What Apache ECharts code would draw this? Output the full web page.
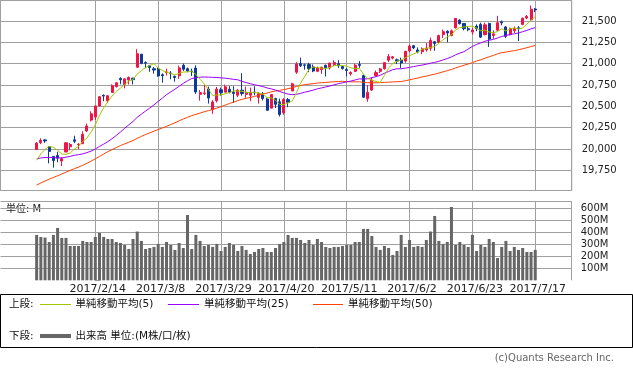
<!DOCTYPE html>
<html><head><meta charset="utf-8">
<script src="https://cdn.jsdelivr.net/npm/echarts@6/dist/echarts.min.js"></script>
<style>html,body{margin:0;padding:0;background:#fff}#c{width:633px;height:372px}</style>
</head><body><div id="c"></div>
<script>
// ---- data ----
const dates = ['2017/1/25','2017/1/26','2017/1/27','2017/1/30','2017/1/31',
'2017/2/1','2017/2/2','2017/2/3','2017/2/6','2017/2/7','2017/2/8','2017/2/9','2017/2/10','2017/2/13','2017/2/14','2017/2/15','2017/2/16','2017/2/17','2017/2/21','2017/2/22','2017/2/23','2017/2/24','2017/2/27','2017/2/28',
'2017/3/1','2017/3/2','2017/3/3','2017/3/6','2017/3/7','2017/3/8','2017/3/9','2017/3/10','2017/3/13','2017/3/14','2017/3/15','2017/3/16','2017/3/17','2017/3/20','2017/3/21','2017/3/22','2017/3/23','2017/3/24','2017/3/27','2017/3/28','2017/3/29','2017/3/30','2017/3/31',
'2017/4/3','2017/4/4','2017/4/5','2017/4/6','2017/4/7','2017/4/10','2017/4/11','2017/4/12','2017/4/13','2017/4/17','2017/4/18','2017/4/19','2017/4/20','2017/4/21','2017/4/24','2017/4/25','2017/4/26','2017/4/27','2017/4/28',
'2017/5/1','2017/5/2','2017/5/3','2017/5/4','2017/5/5','2017/5/8','2017/5/9','2017/5/10','2017/5/11','2017/5/12','2017/5/15','2017/5/16','2017/5/17','2017/5/18','2017/5/19','2017/5/22','2017/5/23','2017/5/24','2017/5/25','2017/5/26','2017/5/30','2017/5/31',
'2017/6/1','2017/6/2','2017/6/5','2017/6/6','2017/6/7','2017/6/8','2017/6/9','2017/6/12','2017/6/13','2017/6/14','2017/6/15','2017/6/16','2017/6/19','2017/6/20','2017/6/21','2017/6/22','2017/6/23','2017/6/26','2017/6/27','2017/6/28','2017/6/29','2017/6/30',
'2017/7/3','2017/7/5','2017/7/6','2017/7/7','2017/7/10','2017/7/11','2017/7/12','2017/7/13','2017/7/14','2017/7/17'];

const tickLabels = ['2017/2/14','2017/3/8','2017/3/29','2017/4/20','2017/5/11','2017/6/2','2017/6/23','2017/7/17'];
const firstTickIndex = 14;
const tickStep = 15;

const opens = [19994,20076,20106,20028,19913,19923,19859,19964,20025,20107,
20049,20061,20211,20338,20374,20504,20627,20564,20663,20730,
20826,20754,20808,20830,20957,21111,21012,20976,20940,20935,
20870,20894,20890,20852,20857,20981,20940,20913,20948,20640,
20650,20700,20462,20566,20694,20665,20700,20665,20630,20689,
20640,20630,20666,20605,20645,20586,20478,20590,20553,20425,
20578,20680,20900,21000,20986,20990,20962,20910,20930,20980,
20950,20990,21000,20965,20930,20880,20910,20990,20860,20590,
20690,20860,20910,20940,21040,21065,21045,21040,21030,21150,
21210,21160,21140,21160,21180,21257,21250,21340,21380,21330,
21420,21510,21470,21410,21370,21440,21460,21340,21470,21330,
21392,21490,21430,21340,21385,21420,21460,21535,21513,21640];

const highs = [20082,20125,20117,20028,19913,19967,19905,20081,20070,20155,
20068,20206,20298,20441,20504,20620,20640,20624,20757,20779,
20840,20822,20851,20834,21169,21112,21025,20985,20961,20958,
20886,20941,20912,20860,20977,21001,20955,20942,20980,20690,
20750,20731,20572,20727,20719,20754,20736,20735,20702,20888,
20731,20720,20735,20665,20668,20600,20637,20600,20590,20595,
20597,20776,21017,21070,21000,21010,20990,20965,20965,20990,
21010,21040,21040,20975,20950,20910,21000,21030,20870,20750,
20840,20920,20950,21015,21113,21090,21060,21070,21150,21226,
21220,21190,21190,21240,21305,21265,21340,21400,21390,21400,
21535,21520,21475,21440,21420,21460,21480,21480,21480,21390,
21560,21505,21440,21420,21435,21440,21540,21570,21681,21651];

const lows = [19994,20056,20071,19831,19781,19843,19800,19964,19984,20068,
19998,20060,20199,20322,20339,20496,20560,20538,20663,20720,
20758,20710,20756,20756,20957,20993,20946,20905,20883,20847,
20777,20862,20817,20789,20823,20915,20900,20855,20645,20566,
20632,20532,20412,20544,20624,20665,20652,20540,20607,20624,
20600,20560,20629,20532,20568,20450,20478,20480,20380,20400,
20490,20680,20880,20960,20930,20900,20900,20900,20880,20850,
20930,20970,20950,20930,20850,20860,20900,20950,20600,20553,
20680,20850,20890,20930,21020,21050,20995,20950,21010,21130,
21170,21120,21110,21140,21150,21150,21240,21300,21250,21320,
21410,21460,21390,21380,21340,21380,21300,21330,21197,21290,
21380,21450,21300,21330,21360,21265,21450,21520,21506,21603];

const closes = [20068.5,20100.9,20093.8,19971.1,19864.1,19890.9,19884.9,20071.5,20052.4,20090.3,
20054.3,20172.4,20269.4,20412.2,20504.4,20611.9,20619.8,20624.1,20743.0,20775.6,
20810.3,20821.8,20837.4,20812.2,21115.6,21003.0,21005.7,20954.3,20924.8,20855.7,
20858.2,20903.0,20881.5,20837.4,20950.1,20934.6,20914.6,20905.9,20668.0,20661.3,
20656.6,20596.7,20551.0,20701.5,20659.3,20728.5,20663.2,20650.2,20689.2,20648.2,
20663.0,20656.1,20658.0,20651.3,20591.9,20453.3,20636.9,20523.3,20404.5,20578.7,
20547.8,20763.9,20996.1,20975.1,20981.3,20940.5,20913.5,20949.9,20957.9,20951.5,
21006.9,21012.4,20975.8,20943.1,20919.4,20896.6,20981.9,20979.8,20606.9,20663.0,
20804.8,20894.8,20937.9,21012.3,21083.0,21080.3,21029.5,21008.7,21144.2,21206.3,
21184.0,21136.2,21173.7,21182.5,21272.0,21235.7,21328.5,21374.6,21359.9,21384.3,
21529.0,21467.1,21410.0,21397.3,21394.8,21409.6,21310.7,21454.6,21287.0,21349.6,
21479.3,21478.2,21320.0,21414.3,21408.5,21409.1,21532.1,21553.1,21637.7,21629.7];

// volume, millions
const volumes = [378,361,356,319,378,436,353,353,286,286,
286,328,319,319,361,394,361,344,344,319,
311,294,261,344,406,328,261,269,278,303,
278,319,294,253,311,269,544,261,378,328,
286,294,278,303,244,278,311,294,244,286,
253,219,236,261,269,236,236,269,303,319,
378,353,353,336,311,336,294,344,319,278,
269,278,278,286,294,294,319,319,428,428,
369,278,253,286,269,211,244,378,278,336,
278,286,278,336,406,536,328,303,319,611,
294,319,294,278,378,244,294,278,344,319,
186,278,328,244,278,253,269,236,236,253];

const ma5 = [19867.9,19941.7,19995.0,20029.3,20019.7,19984.2,19941.0,19936.5,19952.8,19998.0,
20030.7,20088.2,20127.8,20199.7,20282.5,20394.0,20483.5,20554.5,20620.6,20674.9,
20714.5,20754.9,20797.6,20811.5,20879.5,20918.0,20954.8,20978.2,21000.7,20948.7,
20919.7,20899.2,20884.6,20867.2,20886.0,20901.3,20903.6,20908.5,20874.6,20816.9,
20761.3,20697.7,20626.7,20633.4,20633.0,20647.4,20660.7,20680.5,20678.1,20675.9,
20662.8,20661.3,20662.9,20655.3,20644.0,20602.1,20598.3,20571.3,20522.0,20519.3,
20538.2,20563.6,20658.2,20772.3,20852.8,20931.4,20961.3,20952.1,20948.6,20942.6,
20955.9,20975.7,20980.9,20977.9,20971.5,20949.5,20943.4,20944.2,20876.9,20825.7,
20807.3,20789.9,20781.5,20862.6,20946.6,21001.7,21028.6,21042.7,21069.1,21093.8,
21114.5,21135.9,21168.9,21176.6,21189.7,21200.0,21238.5,21278.6,21314.1,21336.6,
21395.2,21423.0,21430.1,21437.5,21439.6,21415.8,21384.5,21393.4,21371.3,21362.3,
21376.2,21409.7,21382.8,21408.3,21420.1,21406.0,21416.8,21463.4,21508.1,21552.4];

const ma25 = [19885.8,19894.5,19899.2,19900.4,19898.2,19896.5,19894.1,19903.6,19912.9,19926.0,
19932.9,19942.1,19957.0,19974.9,19999.6,20029.8,20056.5,20085.8,20120.1,20158.0,
20198.3,20241.9,20282.3,20322.8,20370.9,20408.3,20444.5,20478.9,20517.0,20556.7,
20595.4,20636.1,20668.5,20699.9,20734.3,20769.5,20799.2,20824.7,20834.9,20841.2,
20843.0,20842.0,20839.1,20837.5,20832.8,20829.5,20823.2,20815.7,20810.8,20792.1,
20778.5,20764.5,20752.7,20741.7,20731.2,20715.0,20704.3,20690.0,20672.7,20657.8,
20642.4,20636.3,20639.9,20652.2,20665.0,20676.4,20689.0,20705.0,20715.3,20726.9,
20738.1,20752.1,20765.1,20775.2,20786.1,20795.4,20808.5,20821.3,20819.6,20822.4,
20836.5,20846.8,20863.4,20887.7,20907.8,20929.1,20939.8,20940.3,20947.0,20956.0,
20965.8,20974.7,20983.6,20992.6,21005.4,21014.6,21027.2,21043.2,21059.9,21078.5,
21103.7,21123.2,21140.4,21172.0,21201.2,21225.4,21242.1,21262.7,21273.7,21284.4,
21300.4,21318.3,21330.8,21341.6,21349.7,21358.7,21374.5,21389.7,21407.9,21422.2];

const ma50 = [19575.7,19600.7,19625.2,19646.2,19666.1,19685.9,19706.2,19728.5,19749.1,19769.2,
19787.3,19808.8,19831.7,19857.5,19883.8,19912.6,19940.7,19968.1,19992.0,20015.2,
20039.1,20059.6,20078.2,20098.6,20123.8,20147.0,20169.5,20189.1,20208.7,20227.5,
20246.0,20265.1,20286.1,20306.4,20330.2,20351.2,20370.7,20390.8,20404.9,20420.4,
20436.4,20449.3,20462.4,20478.8,20495.4,20513.9,20532.5,20549.0,20566.8,20581.5,
20593.4,20604.5,20615.8,20629.4,20643.9,20655.2,20670.2,20679.3,20686.3,20696.1,
20705.9,20717.8,20732.3,20743.6,20753.1,20759.7,20765.5,20772.1,20776.4,20779.9,
20783.8,20787.6,20790.4,20793.0,20789.1,20787.0,20786.5,20787.0,20780.6,20776.8,
20775.7,20775.6,20776.7,20780.2,20782.8,20785.8,20788.0,20790.1,20799.6,20810.5,
20821.1,20831.9,20844.3,20853.9,20866.2,20876.3,20889.6,20904.1,20917.5,20932.3,
20949.6,20965.8,20980.8,20995.8,21011.8,21031.0,21044.4,21063.1,21080.7,21096.1,
21114.8,21129.0,21135.5,21144.3,21152.8,21162.2,21174.6,21186.7,21200.2,21213.8];

// ---- chart ----
const FONT = "'DejaVu Sans','Noto Sans CJK JP',sans-serif";
const CJK = "'DejaVu Sans','Noto Sans CJK JP',sans-serif";
const GRID_C = '#a0a0a0';
const NONE = 'rgba(0,0,0,0)';
const UP = '#f01446', DOWN = '#0d3a9a';
const C5 = '#a0c800', C25 = '#9900ff', C50 = '#ff4000';

const xPos = dates.map((d, i) => i - firstTickIndex);
const candleData = dates.map((d, i) => [xPos[i], opens[i], closes[i], lows[i], highs[i]]);
const volData = dates.map((d, i) => [xPos[i], volumes[i]]);
const lineData = arr => arr.map((v, i) => [xPos[i], v]);

const X_MIN = -22.63, X_MAX = 113.7;
// split lines of the x axes: axis edges + multiples of tickStep; only the dated ones are visible
const xSplitVals = [X_MIN];
for (let v = Math.ceil(X_MIN / tickStep) * tickStep; v <= X_MAX; v += tickStep) xSplitVals.push(v);
xSplitVals.push(X_MAX);
const upperSplitColors = xSplitVals.map((v, k) => (k === 0 || k === xSplitVals.length - 1 || v >= 0) ? GRID_C : NONE);
const lowerSplitColors = xSplitVals.map((v, k) => (k === 0) ? NONE : ((k === xSplitVals.length - 1 || v >= 0) ? GRID_C : NONE));

function xLabel(v) {
  const k = Math.round(v / tickStep);
  if (Math.abs(v - k * tickStep) > 1e-6 || k < 0 || k >= tickLabels.length) return '';
  return tickLabels[k];
}
function priceLabel(v) {
  if (Math.abs(v / 250 - Math.round(v / 250)) > 1e-6) return '';
  return String(Math.round(v)).replace(/\B(?=(\d{3})+(?!\d))/g, ',');
}
function volLabel(v) {
  if (v <= 0 || Math.abs(v / 100 - Math.round(v / 100)) > 1e-6) return '';
  return Math.round(v) + 'M';
}

const chart = echarts.init(document.getElementById('c'), null, {renderer: 'canvas'});
const legendY1 = 304, legendY2 = 336;
chart.setOption({
  animation: false,
  textStyle: {fontFamily: FONT},
  grid: [
    {left: 0.5, top: 0.5, width: 571.2, height: 190, show: true, borderColor: GRID_C, borderWidth: 1, backgroundColor: 'transparent'},
    {left: 0.5, top: 201.3, width: 571.2, height: 79}
  ],
  xAxis: [
    {type: 'value', gridIndex: 0, min: X_MIN, max: X_MAX, minInterval: tickStep, maxInterval: tickStep,
     axisLine: {show: false}, axisTick: {show: false}, axisLabel: {show: false},
     splitLine: {show: true, lineStyle: {color: upperSplitColors, width: 1}}},
    {type: 'value', gridIndex: 1, min: X_MIN, max: X_MAX, minInterval: tickStep, maxInterval: tickStep,
     axisLine: {show: false}, axisTick: {show: false},
     axisLabel: {show: true, formatter: xLabel, margin: 3, fontSize: 11, color: '#222', fontFamily: FONT, padding: [0, 0, 0, 5], showMinLabel: false, showMaxLabel: false},
     splitLine: {show: true, lineStyle: {color: lowerSplitColors, width: 1}}}
  ],
  yAxis: [
    {type: 'value', gridIndex: 0, position: 'right', min: 19513, max: 21740, minInterval: 250, maxInterval: 250,
     axisLine: {show: false}, axisTick: {show: true, length: 5, lineStyle: {color: GRID_C}},
     axisLabel: {formatter: priceLabel, margin: 10, fontSize: 10, color: '#222', fontFamily: FONT},
     splitLine: {show: true, lineStyle: {color: GRID_C, width: 1}}},
    {type: 'value', gridIndex: 1, position: 'right', min: 0, max: 658, interval: 100,
     axisLine: {show: true, lineStyle: {color: GRID_C, width: 1}}, axisTick: {show: true, length: 5, lineStyle: {color: GRID_C}},
     axisLabel: {formatter: volLabel, margin: 9, fontSize: 10, color: '#222', fontFamily: FONT},
     splitLine: {show: true, showMinLine: false, lineStyle: {color: GRID_C, width: 1}}}
  ],
  series: [
    {type: 'candlestick', xAxisIndex: 0, yAxisIndex: 0, data: candleData, barWidth: 2.6,
     itemStyle: {color: UP, color0: DOWN, borderColor: UP, borderColor0: DOWN, borderWidth: 1}},
    {type: 'line', name: '単純移動平均(50)', xAxisIndex: 0, yAxisIndex: 0, data: lineData(ma50), symbol: 'none', z: 3,
     lineStyle: {color: C50, width: 1}, itemStyle: {color: C50}},
    {type: 'line', name: '単純移動平均(25)', xAxisIndex: 0, yAxisIndex: 0, data: lineData(ma25), symbol: 'none', z: 3,
     lineStyle: {color: C25, width: 1}, itemStyle: {color: C25}},
    {type: 'line', name: '単純移動平均(5)', xAxisIndex: 0, yAxisIndex: 0, data: lineData(ma5), symbol: 'none', z: 3,
     lineStyle: {color: C5, width: 1}, itemStyle: {color: C5}},
    {type: 'bar', name: '出来高', xAxisIndex: 1, yAxisIndex: 1, data: volData, barWidth: 3,
     itemStyle: {color: '#666666'}}
  ],
  graphic: [
    {type: 'text', left: 6, top: 204.5, style: {text: '単位: M', fontSize: 10, fontFamily: CJK, fill: '#222'}},
    {type: 'rect', shape: {x: 0.5, y: 294.5, width: 632, height: 53}, style: {fill: 'none', stroke: '#000', lineWidth: 1}},
    {type: 'text', x: 9, y: legendY1, style: {text: '上段:', fontSize: 10.5, fontFamily: CJK, fill: '#111', verticalAlign: 'middle'}},
    {type: 'line', shape: {x1: 40, y1: legendY1 + 0.5, x2: 71, y2: legendY1 + 0.5}, style: {stroke: C5, lineWidth: 1}},
    {type: 'text', x: 75.5, y: legendY1, style: {text: '単純移動平均(5)', fontSize: 10.5, fontFamily: CJK, fill: '#111', verticalAlign: 'middle'}},
    {type: 'line', shape: {x1: 168, y1: legendY1 + 0.5, x2: 199, y2: legendY1 + 0.5}, style: {stroke: C25, lineWidth: 1}},
    {type: 'text', x: 204, y: legendY1, style: {text: '単純移動平均(25)', fontSize: 10.5, fontFamily: CJK, fill: '#111', verticalAlign: 'middle'}},
    {type: 'line', shape: {x1: 313, y1: legendY1 + 0.5, x2: 343, y2: legendY1 + 0.5}, style: {stroke: C50, lineWidth: 1}},
    {type: 'text', x: 348, y: legendY1, style: {text: '単純移動平均(50)', fontSize: 10.5, fontFamily: CJK, fill: '#111', verticalAlign: 'middle'}},
    {type: 'text', x: 9, y: legendY2, style: {text: '下段:', fontSize: 10.5, fontFamily: CJK, fill: '#111', verticalAlign: 'middle'}},
    {type: 'line', shape: {x1: 40, y1: legendY2, x2: 71, y2: legendY2}, style: {stroke: '#666666', lineWidth: 4}},
    {type: 'text', x: 75.5, y: legendY2, style: {text: '出来高 単位:(M株/口/枚)', fontSize: 10.5, fontFamily: CJK, fill: '#111', verticalAlign: 'middle'}},
    {type: 'text', x: 614, y: 358, style: {text: '(c)Quants Research Inc.', fontSize: 10, fontFamily: FONT, fill: '#666', align: 'right', verticalAlign: 'middle'}}
  ]
});
</script></body></html>
